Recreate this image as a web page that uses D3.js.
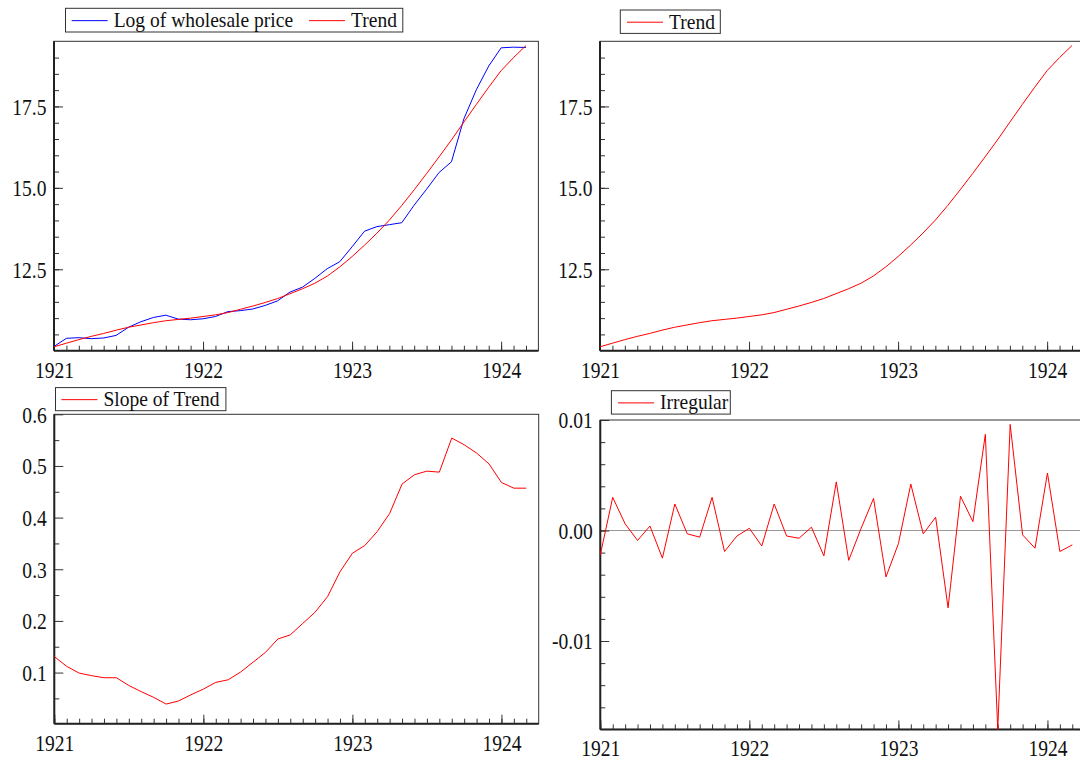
<!DOCTYPE html>
<html lang="en">
<head>
<meta charset="UTF-8">
<title>Log wholesale price - trend decomposition</title>
<script src="https://cdnjs.cloudflare.com/ajax/libs/d3/7.8.5/d3.min.js"></script>
<style>
  body { margin:0; background:#fff; }
  svg { display:block; }
  .tick-label { font-family:"Liberation Serif", "Times New Roman", serif; font-size:23px; fill:#111; }
  .legend-text { font-family:"Liberation Serif", "Times New Roman", serif; font-size:21px; fill:#111; }
</style>
</head>
<body>
<svg id="chart" width="1080" height="762"></svg>
<script>
  // monthly data, Jan 1921 .. Mar 1924
  var yearLabels = ["1921", "1922", "1923", "1924"];

  var logPrice = [10.13, 10.38, 10.40, 10.37, 10.39, 10.47, 10.72, 10.89, 11.02, 11.09,
                  10.97, 10.95, 10.98, 11.05, 11.20, 11.23, 11.28, 11.39, 11.53, 11.80,
                  11.95, 12.22, 12.52, 12.73, 13.19, 13.67, 13.81, 13.87, 13.93, 14.47,
                  14.96, 15.47, 15.80, 17.12, 18.01, 18.74, 19.30, 19.32, 19.31];

  var trend = [10.12, 10.23, 10.34, 10.44, 10.53, 10.63, 10.72, 10.79, 10.86, 10.92,
               10.96, 11.00, 11.05, 11.10, 11.17, 11.27, 11.37, 11.48, 11.60, 11.75,
               11.90, 12.07, 12.29, 12.57, 12.89, 13.24, 13.61, 14.01, 14.46, 14.94,
               15.44, 15.95, 16.47, 17.02, 17.56, 18.09, 18.60, 19.00, 19.37];

  var slope = [0.131, 0.112, 0.099, 0.094, 0.090, 0.090, 0.075, 0.063, 0.052, 0.039,
               0.045, 0.057, 0.068, 0.081, 0.086, 0.101, 0.120, 0.139, 0.165, 0.173,
               0.195, 0.217, 0.247, 0.295, 0.331, 0.346, 0.373, 0.408, 0.465, 0.483,
               0.490, 0.488, 0.554, 0.541, 0.525, 0.504, 0.468, 0.457, 0.457];

  var irregular = [-0.0022, 0.0030, 0.0006, -0.0009, 0.0004, -0.0025, 0.0024, -0.0003, -0.0006, 0.0030,
                   -0.0019, -0.0005, 0.0002, -0.0014, 0.0024, -0.0005, -0.0007, 0.0003, -0.0023, 0.0044,
                   -0.0027, 0.0002, 0.0029, -0.0042, -0.0012, 0.0042, -0.0003, 0.0012, -0.0070, 0.0031,
                   0.0008, 0.0087, -0.0180, 0.0096, -0.0004, -0.0016, 0.0052, -0.0019, -0.0013];

  var svg = d3.select("#chart");
  var W = 484.4, H = 309.4;

  var panels = [
    { x:54,    y:41.3,  domain:[10.0, 19.5],    major:[12.5, 15, 17.5], minor:d3.range(10.5, 19.5, 0.5),
      fmt:function(d){ return d.toFixed(1); },
      series:[{ values:logPrice, color:"#0000ff" }, { values:trend, color:"#ff0000" }],
      legend:{ x:65.5, y:8.3, w:337.3, h:23.7,
               items:[{ label:"Log of wholesale price", color:"#0000ff", x:71.7 }, { label:"Trend", color:"#ff0000", x:309 }] } },
    { x:600,   y:41.3,  domain:[10.0, 19.5],    major:[12.5, 15, 17.5], minor:d3.range(10.5, 19.5, 0.5),
      fmt:function(d){ return d.toFixed(1); },
      series:[{ values:trend, color:"#ff0000" }],
      legend:{ x:620.3, y:10, w:100, h:23.4, items:[{ label:"Trend", color:"#ff0000", x:627 }] } },
    { x:54.3,  y:414.3, domain:[0.001, 0.6],    major:[0.1, 0.2, 0.3, 0.4, 0.5, 0.6], minor:d3.range(0.05, 0.6, 0.1),
      fmt:function(d){ return d.toFixed(1); },
      series:[{ values:slope, color:"#ff0000" }],
      legend:{ x:55.5, y:387.6, w:170.4, h:23.1, items:[{ label:"Slope of Trend", color:"#ff0000", x:61.4 }] } },
    { x:600.3, y:420,   domain:[-0.018, 0.01],  major:[-0.01, 0, 0.01], minor:d3.range(-0.016, 0.01, 0.002),
      fmt:function(d){ return d.toFixed(2); },
      zero:true,
      series:[{ values:irregular, color:"#ff0000" }],
      legend:{ x:611.4, y:390.7, w:118.9, h:23.4, items:[{ label:"Irregular", color:"#ff0000", x:618 }] } }
  ];

  var x = d3.scaleLinear().domain([0, 39]).range([0, W]);

  panels.forEach(function(p) {
    var g = svg.append("g").attr("transform", "translate(" + p.x + "," + p.y + ")");
    var y = d3.scaleLinear().domain(p.domain).range([H, 0]);

    // frame
    g.append("rect").attr("width", W).attr("height", H)
      .attr("fill", "none").attr("stroke", "#333").attr("stroke-width", 1);

    if (p.zero) {
      g.append("line").attr("x1", 0).attr("x2", W)
        .attr("y1", y(0)).attr("y2", y(0))
        .attr("stroke", "#999").attr("stroke-width", 1);
    }

    // y axis: minor then major
    g.append("g").call(d3.axisLeft(y).tickValues(p.minor).tickSize(-5).tickSizeOuter(0).tickFormat(""))
      .call(function(a){ a.select(".domain").remove(); a.selectAll("line").attr("stroke", "#333"); });
    var ya = g.append("g").call(d3.axisLeft(y).tickValues(p.major).tickSize(-9).tickSizeOuter(0).tickFormat(p.fmt));
    ya.select(".domain").remove();
    ya.selectAll("line").attr("stroke", "#333");
    ya.selectAll("text").attr("class", "tick-label").attr("font-family", null).attr("font-size", null)
      .attr("x", 0).attr("dy", "0.34em").attr("transform", "translate(-7.5,0) scale(0.85,1)");

    // x axis: monthly minor, yearly major
    g.append("g").attr("transform", "translate(0," + H + ")")
      .call(d3.axisBottom(x).tickValues(d3.range(0, 39)).tickSize(-5).tickSizeOuter(0).tickFormat(""))
      .call(function(a){ a.select(".domain").remove(); a.selectAll("line").attr("stroke", "#333"); });
    var xa = g.append("g").attr("transform", "translate(0," + H + ")")
      .call(d3.axisBottom(x).tickValues([0, 12, 24, 36]).tickSize(-9).tickSizeOuter(0)
        .tickFormat(function(d){ return yearLabels[d / 12]; }));
    xa.select(".domain").remove();
    xa.selectAll("line").attr("stroke", "#333");
    xa.selectAll("text").attr("class", "tick-label").attr("font-family", null).attr("font-size", null)
      .attr("y", 27).attr("dy", null).attr("transform", "scale(0.85,1)");

    // heavier left and bottom axis lines
    g.append("line").attr("x1", 0).attr("x2", 0).attr("y1", 0).attr("y2", H)
      .attr("stroke", "#222").attr("stroke-width", 2);
    g.append("line").attr("x1", 0).attr("x2", W).attr("y1", H).attr("y2", H)
      .attr("stroke", "#222").attr("stroke-width", 2);

    // series
    p.series.forEach(function(s) {
      g.append("path").datum(s.values)
        .attr("fill", "none").attr("stroke", s.color).attr("stroke-width", 1)
        .attr("d", d3.line().x(function(d, i){ return x(i); }).y(function(d){ return y(d); }));
    });

    // legend
    var L = p.legend;
    var lg = svg.append("g").attr("transform", "translate(" + L.x + "," + L.y + ")");
    lg.append("rect").attr("width", L.w).attr("height", L.h)
      .attr("fill", "#fff").attr("stroke", "#333").attr("stroke-width", 1);
    L.items.forEach(function(it) {
      var ox = it.x - L.x;
      lg.append("line").attr("x1", ox).attr("x2", ox + 36)
        .attr("y1", L.h / 2 + 0.5).attr("y2", L.h / 2 + 0.5)
        .attr("stroke", it.color).attr("stroke-width", 1);
      lg.append("text").attr("class", "legend-text")
        .attr("x", ox + 42).attr("y", L.h / 2 + 7)
        .attr("transform", "translate(" + (ox + 42) + ",0) scale(0.93,1) translate(" + (-(ox + 42)) + ",0)")
        .text(it.label);
    });
  });
</script>
</body>
</html>
